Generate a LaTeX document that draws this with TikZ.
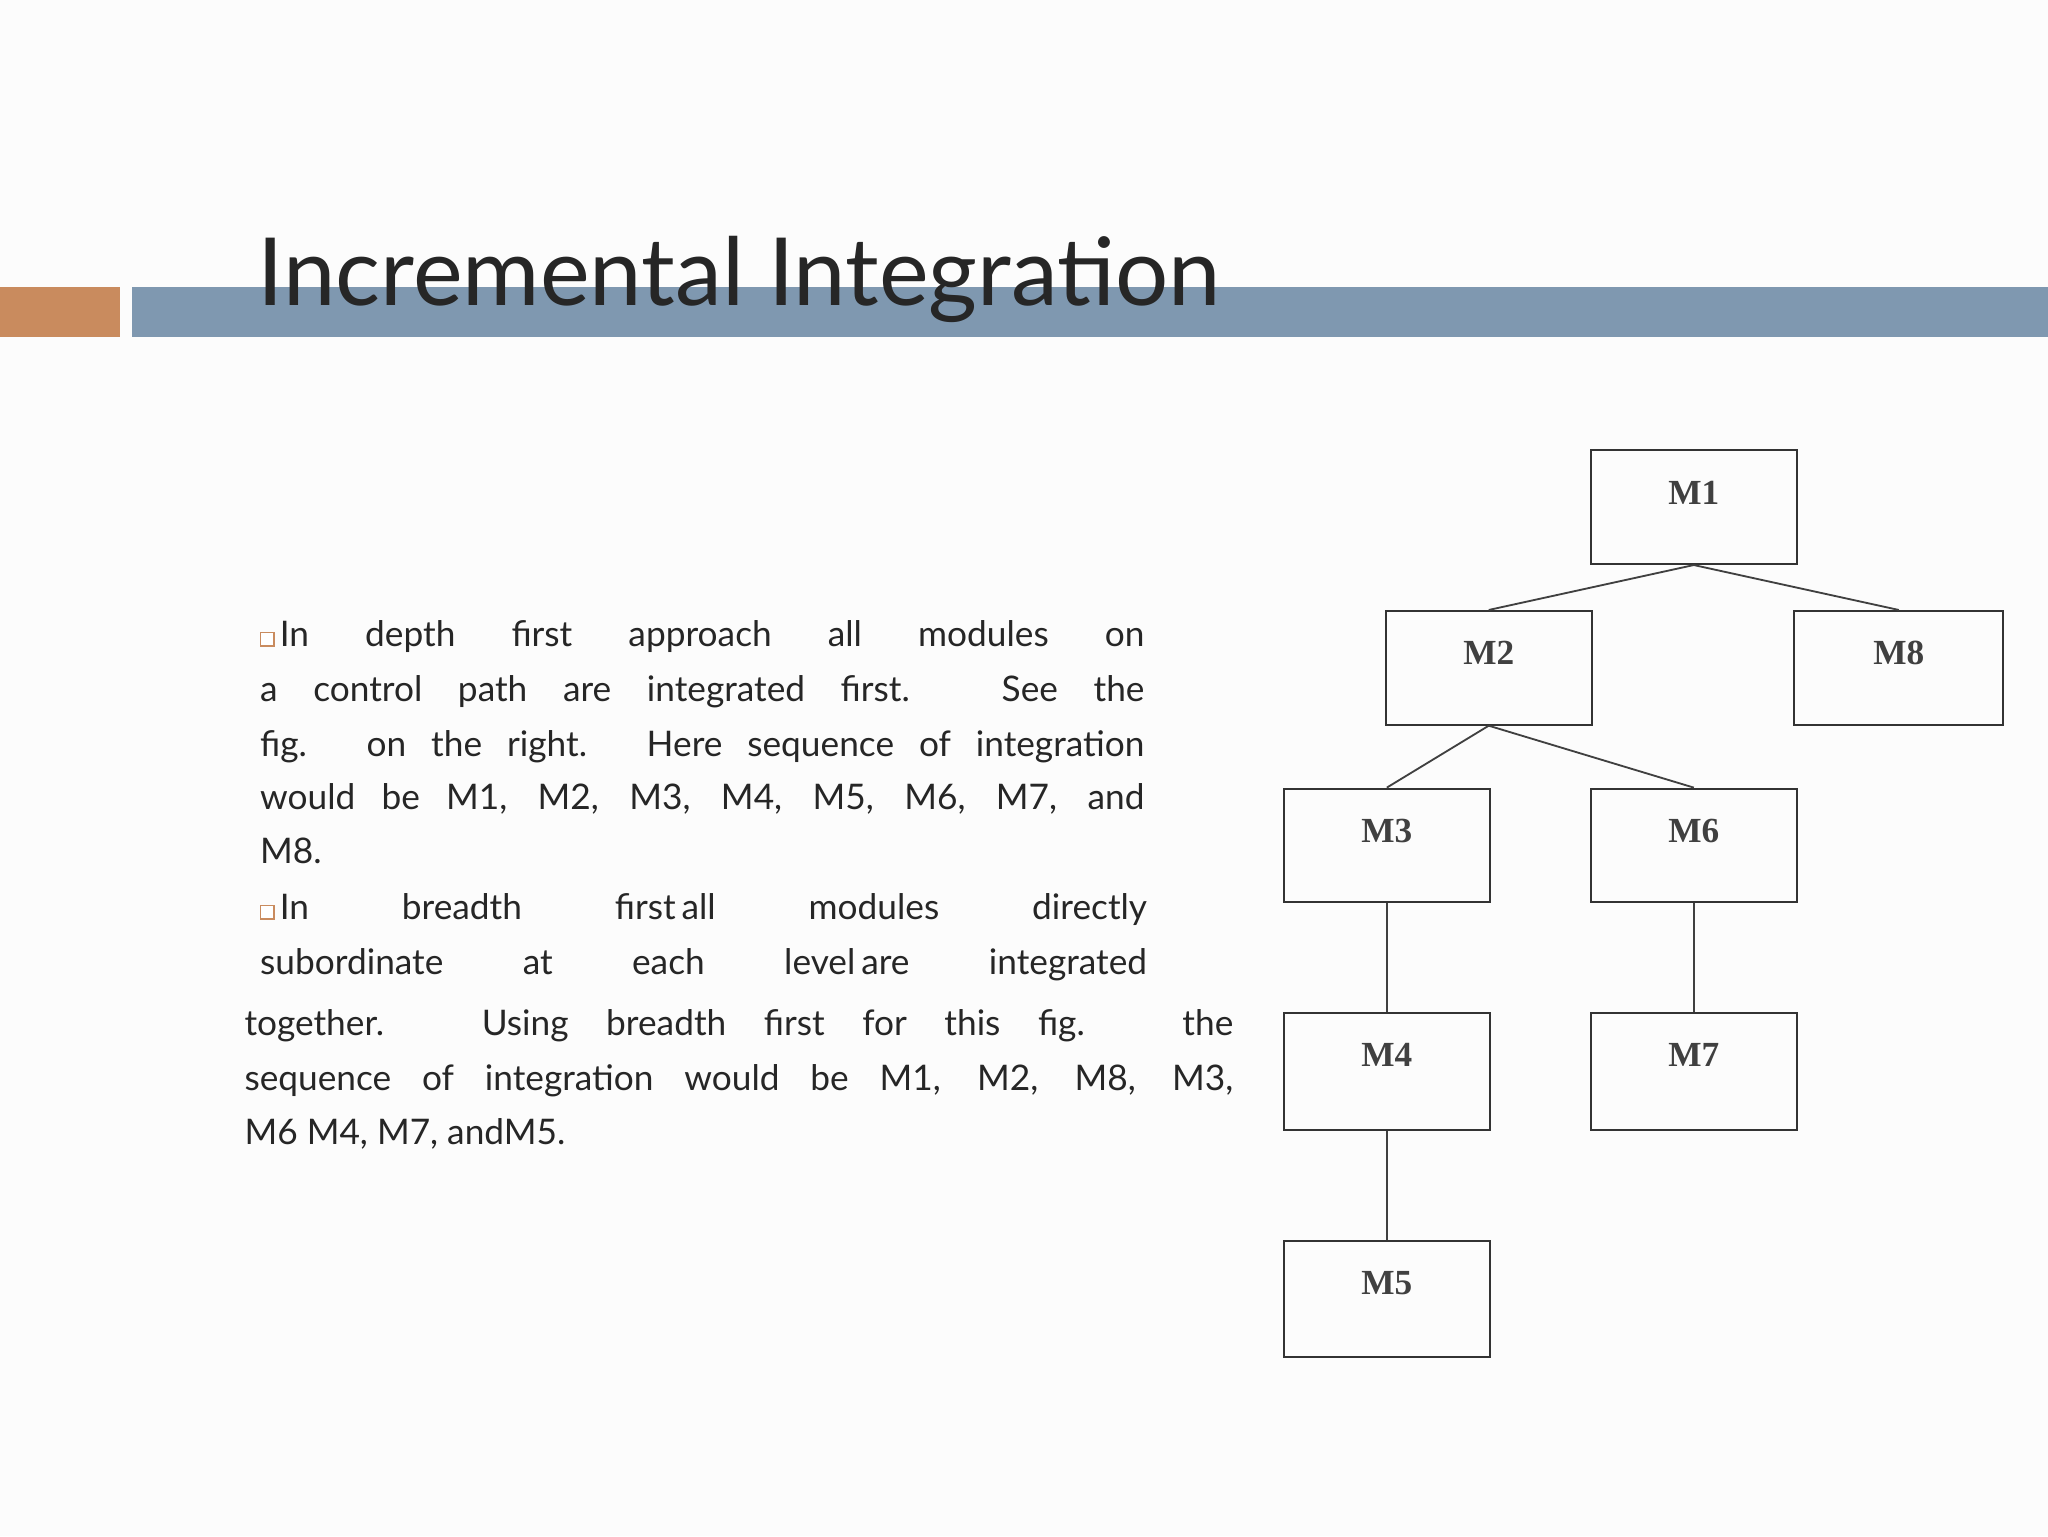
\documentclass[tikz,border=0pt]{standalone}
\usepackage{fontspec}
\setmainfont{Lato}
\newfontfamily\serifb{Liberation Serif}
\definecolor{barblue}{HTML}{7F98B0}
\definecolor{barorange}{HTML}{C98B5E}
\begin{document}
\begin{tikzpicture}[x=1pt,y=-1pt,
  mbox/.style={draw=black!80,line width=1.6pt,minimum width=158pt,minimum height=87pt,anchor=north west,inner sep=0pt},
  lbl/.style={font=\serifb\fontsize{27}{27}\selectfont\bfseries,text=black!75},
  con/.style={draw=black!75,line width=1.4pt},
  body/.style={anchor=base west,inner sep=0pt,font=\fontsize{27}{27}\selectfont,text=black!85}]
\useasboundingbox (0,0) rectangle (1568,1176);
\fill[white!98!gray] (0,0) rectangle (1568,1176);
\fill[barorange] (0,220) rectangle (92,258);
\fill[barblue] (101,220) rectangle (1568,258);
\node[anchor=base west,inner sep=0pt,font=\fontsize{72}{72}\selectfont,text=black!85] (title) at (197,234) {Incremental Integration};
% body text
\newcommand{\bl}{\textcolor{barorange}{\rule{11pt}{11pt}}\kern-10pt\textcolor{white}{\rule[1pt]{9pt}{9pt}}\kern5pt}
\node[body] (l1) at (199,495) {\makebox[677pt][s]{\bl In depth first approach all modules on}};
\node[body] (l2) at (199,537) {\makebox[677pt][s]{a control path are integrated first. See the}};
\node[body] (l3) at (199,579) {\makebox[677pt][s]{fig. on the right. Here sequence of integration}};
\node[body] (l4) at (199,620) {\makebox[677pt][s]{would be M1, M2, M3, M4, M5, M6, M7, and}};
\node[body] (l5) at (199,661) {M8.};
\node[body] (l6) at (199,704) {\makebox[679pt][s]{\bl In breadth first\,all modules directly}};
\node[body] (l7) at (199,746) {\makebox[679pt][s]{subordinate at each level\,are integrated}};
\node[body] (l8) at (187,793) {\makebox[757pt][s]{together. Using breadth first for this fig. the}};
\node[body] (l9) at (187,835) {\makebox[757pt][s]{sequence of integration would be M1, M2, M8, M3,}};
\node[body] (l10) at (187,876) {M6 M4, M7, andM5.};
% boxes
\node[mbox] (m1) at (1217,344) {};
\node[mbox] (m2) at (1060,467) {};
\node[mbox,minimum width=160pt] (m8) at (1373,467) {};
\node[mbox] (m3) at (982,603) {};
\node[mbox] (m6) at (1217,603) {};
\node[mbox,minimum height=89pt] (m4) at (982,775) {};
\node[mbox,minimum height=89pt] (m7) at (1217,775) {};
\node[mbox,minimum height=89pt] (m5) at (982,949) {};
\foreach \n/\t in {m1/M1,m2/M2,m8/M8,m3/M3,m6/M6,m4/M4,m7/M7,m5/M5}
  \node[lbl] at ([yshift=-33pt]\n.north) {\t};
\draw[con] (m1.south) -- (m2.north);
\draw[con] (m1.south) -- (m8.north);
\draw[con] (m2.south) -- (m3.north);
\draw[con] (m2.south) -- (m6.north);
\draw[con] (m3.south) -- (m4.north);
\draw[con] (m6.south) -- (m7.north);
\draw[con] (m4.south) -- (m5.north);
\end{tikzpicture}
\end{document}
